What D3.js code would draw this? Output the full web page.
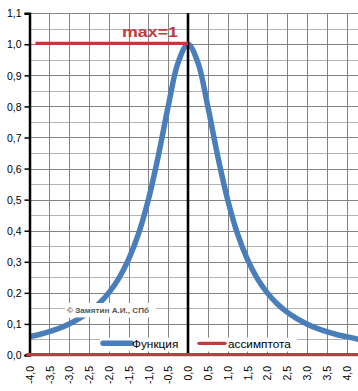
<!DOCTYPE html>
<html><head><meta charset="utf-8">
<script src="https://cdn.jsdelivr.net/npm/d3@7"></script>
<style>body{margin:0;background:#fff}svg{display:block}</style>
</head><body><svg id="c" width="358" height="391"></svg>
<script>
// ---- data ----
const xs = [-4,-3.75,-3.5,-3.25,-3,-2.75,-2.5,-2.25,-2,-1.75,-1.5,-1.25,-1,-0.75,-0.5,-0.25,0,0.25,0.5,0.75,1,1.25,1.5,1.75,2,2.25,2.5,2.75,3,3.25,3.5,3.75,4,4.25,4.5];
const ys = [0.059,0.066,0.075,0.086,0.100,0.117,0.138,0.165,0.200,0.246,0.308,0.390,0.500,0.640,0.800,0.941,1.000,0.941,0.800,0.640,0.500,0.390,0.308,0.246,0.200,0.165,0.138,0.117,0.100,0.086,0.075,0.066,0.059,0.052,0.047];
const maxLineX = [-3.85, 0];
const maxLineY = [1, 1];
const asymX = [-4.08, 4.5];
const asymY = [0, 0];
const vLineX = [0, 0];
const vLineY = [0, 1.1];
const xTickVals = [-4,-3.5,-3,-2.5,-2,-1.5,-1,-0.5,0,0.5,1,1.5,2,2.5,3,3.5,4];
const xTickLabels = ["-4,0","-3,5","-3,0","-2,5","-2,0","-1,5","-1,0","-0,5","0,0","0,5","1,0","1,5","2,0","2,5","3,0","3,5","4,0"];
const yTickVals = [0,0.1,0.2,0.3,0.4,0.5,0.6,0.7,0.8,0.9,1.0,1.1];
const yTickLabels = ["0,0","0,1","0,2","0,3","0,4","0,5","0,6","0,7","0,8","0,9","1,0","1,1"];
const yMinorVals = [0.05,0.15,0.25,0.35,0.45,0.55,0.65,0.75,0.85,0.95,1.05];
const legendNames = ["Функция","ассимптота"];
const maxLabel = "max=1";
const watermark = "© Замятин А.И., СПб";

const svg = d3.select("#c");
const W = 358;
const x = d3.scaleLinear().domain([-4, 4]).range([29.5, 346.5]);
const y = d3.scaleLinear().domain([0, 1.1]).range([355, 13.2]);
const blue = "#4a7ebb", red = "#c23a3e";
const font = "'Liberation Sans', Arial, sans-serif";

svg.append("defs").append("clipPath").attr("id","pc")
  .append("rect").attr("x",0).attr("y",0).attr("width",W).attr("height",391);

const g = svg.append("g");
// minor horizontal gridlines
g.selectAll(".hm").data(yMinorVals).join("line")
  .attr("x1", x(-4)).attr("x2", W).attr("y1", d => Math.round(y(d))+0.5).attr("y2", d => Math.round(y(d))+0.5)
  .attr("stroke", "#b4b4b4").attr("stroke-width", 1);
// major horizontal gridlines
g.selectAll(".hM").data(yTickVals).join("line")
  .attr("x1", x(-4)).attr("x2", W).attr("y1", d => Math.round(y(d))+0.5).attr("y2", d => Math.round(y(d))+0.5)
  .attr("stroke", "#848484").attr("stroke-width", 1);
// vertical gridlines
g.selectAll(".v").data(xTickVals.concat([4.5])).join("line")
  .attr("x1", d => Math.round(x(d))+0.5).attr("x2", d => Math.round(x(d))+0.5)
  .attr("y1", y(1.1)).attr("y2", y(0))
  .attr("stroke", "#848484").attr("stroke-width", 1);

// curve
const pts = xs.map((v,i)=>[v, ys[i]]);
svg.append("path").datum(pts)
  .attr("clip-path","url(#pc)")
  .attr("d", d3.line().x(d=>x(d[0])).y(d=>y(d[1])).curve(d3.curveCatmullRom.alpha(0.5)))
  .attr("fill","none").attr("stroke", blue).attr("stroke-width", 5.5);

// watermark
svg.append("rect").attr("x",65).attr("y",303).attr("width",91).attr("height",14.5).attr("fill","#fff");
svg.append("text").attr("x",67).attr("y",313).attr("font-family",font).attr("font-size",7.5)
  .attr("font-weight","bold").attr("fill","#555").attr("textLength",82).attr("lengthAdjust","spacingAndGlyphs")
  .text(watermark);

// legend
svg.append("rect").attr("x",100).attr("y",337.5).attr("width",197).attr("height",14).attr("fill","#fff");
const lg = svg.append("g");
lg.append("line").attr("x1",103).attr("x2",131).attr("y1",343.3).attr("y2",343.3)
  .attr("stroke",blue).attr("stroke-width",5.5).attr("stroke-linecap","round");
lg.append("text").attr("x",132).attr("y",347.5).attr("font-family",font).attr("font-size",11.8)
  .attr("fill","#000").text(legendNames[0]);
lg.append("line").attr("x1",199).attr("x2",225).attr("y1",343.3).attr("y2",343.3)
  .attr("stroke",red).attr("stroke-width",3.3).attr("stroke-linecap","round");
lg.append("text").attr("x",228).attr("y",347.5).attr("font-family",font).attr("font-size",11.8)
  .attr("fill","#000").text(legendNames[1]);

// vertical black line at x=0
svg.append("line").attr("x1",x(vLineX[0])).attr("x2",x(vLineX[1]))
  .attr("y1",y(vLineY[0])).attr("y2",y(vLineY[1])).attr("stroke","#000").attr("stroke-width",2.6);

// max line
svg.append("line").attr("x1",x(maxLineX[0])).attr("x2",x(maxLineX[1]))
  .attr("y1",y(maxLineY[0])-0.8).attr("y2",y(maxLineY[1])-0.8).attr("stroke",red).attr("stroke-width",3.3);
svg.append("text").attr("x",122).attr("y",36.5).attr("font-family",font).attr("font-size",15.5)
  .attr("font-weight","bold").attr("fill",red).attr("textLength",56).attr("lengthAdjust","spacingAndGlyphs")
  .text(maxLabel);

// y axis
const yAxis = d3.axisLeft(y).tickValues(yTickVals).tickSize(5).tickFormat((d,i)=>yTickLabels[i]);
const ya = svg.append("g").attr("transform",`translate(${x(-4)},0)`).call(yAxis);
ya.select(".domain").attr("stroke","#000").attr("stroke-width",2.5);
ya.selectAll(".tick line").attr("stroke","#000").attr("stroke-width",1.5);
ya.selectAll(".tick text").attr("font-family",font).attr("font-size",10.5).attr("fill","#000").attr("x",-8).attr("dy","0.35em");

// x axis (asymptote red line)
svg.append("line").attr("x1",x(asymX[0])).attr("x2",W).attr("y1",y(asymY[0])-0.3).attr("y2",y(asymY[1])-0.3)
  .attr("stroke",red).attr("stroke-width",3.3);
const xAxis = d3.axisBottom(x).tickValues(xTickVals).tickSize(0).tickFormat((d,i)=>xTickLabels[i]);
const xa = svg.append("g").attr("transform",`translate(0,${y(0)})`).call(xAxis);
xa.select(".domain").remove();
xa.selectAll(".tick text").attr("font-family",font).attr("font-size",10.5).attr("fill","#000")
  .attr("transform","rotate(-90)").attr("text-anchor","end").attr("x",-11).attr("y",0).attr("dy","0.35em");
</script></body></html>
